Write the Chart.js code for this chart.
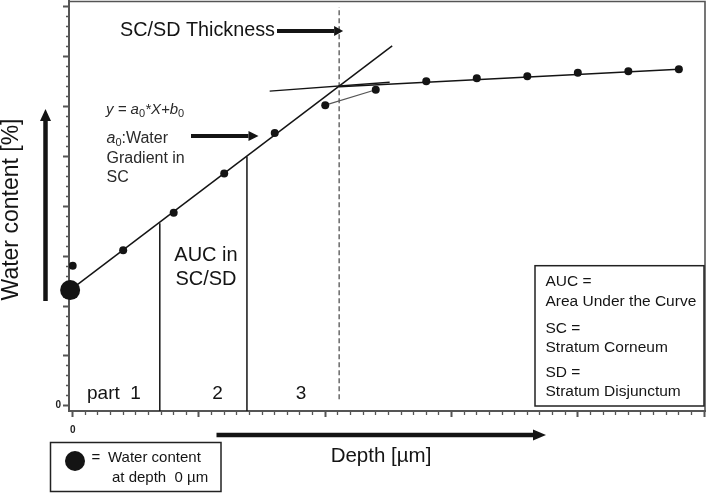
<!DOCTYPE html>
<html>
<head>
<meta charset="utf-8">
<script src="https://cdn.jsdelivr.net/npm/chart.js@4.4.0/dist/chart.umd.min.js"></script>
<style>
  html, body { margin: 0; padding: 0; background: #fff; }
  #wrap { width: 709px; height: 493px; }
</style>
</head>
<body>
<div id="wrap"><canvas id="chart" width="709" height="493"></canvas></div>
<script>
// depth in µm (minor tick = 1, major tick = 10), water content in %
const depth = [0, 4, 8, 12, 16, 20, 24, 28, 32, 36, 40, 44, 48];
const water = [28.1, 31.2, 38.7, 46.6, 54.7, 60.3, 63.4, 65.1, 65.7, 66.1, 66.8, 67.1, 67.5];

// water content at depth 0 (b0 of the SC fit)
const surfaceDepth = [-0.2];
const surfaceWater = [23.2];

// linear fit in the SC: y = a0*X + b0
const scFitX = [-0.2, 25.3];
const scFitY = [23.2, 72.2];

// fit through the plateau below the SC/SD
const plateauX = [21.1, 48];
const plateauY = [64.0, 67.5];

// tangent on the plateau, left of the crossing
const tangentX = [15.6, 25.1];
const tangentY = [63.1, 64.9];

// thin line between the last two SC points
const jointX = [20, 24];
const jointY = [60.3, 63.4];

// borders of the three AUC parts, up to the fit line
const partX = [6.9, 13.8];
const partTop = [36.6, 50.0];

// SC/SD thickness
const thicknessX = 21.1;
const thicknessY = [1.3, 80];

// axes
const xRange = [-0.29, 50.07];
const yRange = [-1.06, 81.2];
const xSteps = [1, 10];   // minor, major
const ySteps = [2, 10];
const tickLabels = ['0'];

const FONT = '"Liberation Sans", Arial, Helvetica, sans-serif';
const INK = '#141414';

const pts = (xs, ys) => xs.map((x, i) => ({ x: x, y: ys[i] }));
const lineSet = (data, extra) => Object.assign({
  data: data, showLine: true, pointRadius: 0, borderColor: INK,
  borderWidth: 1.5, fill: false, order: 5
}, extra || {});

function arrow(ctx, x1, y1, x2, y2, w, len, half) {
  const a = Math.atan2(y2 - y1, x2 - x1);
  const bx = x2 - Math.cos(a) * len, by = y2 - Math.sin(a) * len;
  ctx.save();
  ctx.strokeStyle = INK; ctx.fillStyle = INK; ctx.lineWidth = w;
  ctx.beginPath(); ctx.moveTo(x1, y1); ctx.lineTo(bx, by); ctx.stroke();
  ctx.beginPath();
  ctx.moveTo(x2, y2);
  ctx.lineTo(bx + Math.sin(a) * half, by - Math.cos(a) * half);
  ctx.lineTo(bx - Math.sin(a) * half, by + Math.cos(a) * half);
  ctx.closePath(); ctx.fill();
  ctx.restore();
}

function label(ctx, str, x, y, size, align, color, style) {
  ctx.font = (style || '') + ' ' + size + 'px ' + FONT;
  ctx.fillStyle = color || INK;
  ctx.textAlign = align || 'left';
  ctx.textBaseline = 'middle';
  ctx.fillText(str, x, y);
}

// y = a0*X+b0 with italic letters and subscripts
function formula(ctx, x, y) {
  const parts = [['y = ', 'italic', 15, 0], ['a', 'italic', 15, 0], ['0', '', 11, 4],
                 ['*X+', 'italic', 15, 0], ['b', 'italic', 15, 0], ['0', '', 11, 4]];
  let cx = x;
  parts.forEach(p => {
    ctx.font = p[1] + ' ' + p[2] + 'px ' + FONT;
    ctx.fillStyle = '#2a2a2a';
    ctx.textAlign = 'left';
    ctx.textBaseline = 'middle';
    ctx.fillText(p[0], cx, y + p[3]);
    cx += ctx.measureText(p[0]).width;
  });
}

const annotate = {
  id: 'annotate',
  beforeDatasetsDraw(chart) {
    const ctx = chart.ctx, a = chart.chartArea;
    ctx.save();
    ctx.strokeStyle = '#555'; ctx.lineWidth = 1.6;
    ctx.beginPath();
    ctx.moveTo(a.left, a.top + 0.5); ctx.lineTo(a.right, a.top + 0.5);
    ctx.lineTo(a.right, a.bottom);
    ctx.stroke();
    ctx.restore();
  },
  afterDraw(chart) {
    const ctx = chart.ctx;
    const xs = chart.scales.x;
    ctx.save();

    // top labels
    label(ctx, 'SC/SD Thickness', 120, 31, 19.8);
    arrow(ctx, 277, 31, xs.getPixelForValue(thicknessX) + 4, 31, 4, 9, 5);

    formula(ctx, 106, 110);
    ctx.save(); ctx.fillStyle = '#2a2a2a';
    ctx.font = 'italic 16px ' + FONT;
    ctx.textBaseline = 'middle'; ctx.textAlign = 'left';
    ctx.fillText('a', 106.5, 139);
    let w = ctx.measureText('a').width;
    ctx.font = '11px ' + FONT; ctx.fillText('0', 106.5 + w, 143);
    w += ctx.measureText('0').width;
    ctx.font = '16px ' + FONT; ctx.fillText(':Water', 106.5 + w, 139);
    ctx.restore();
    label(ctx, 'Gradient in', 106.5, 158.5, 16, 'left', '#2a2a2a');
    label(ctx, 'SC', 106.5, 178, 16, 'left', '#2a2a2a');
    arrow(ctx, 191, 136, 258.5, 136, 4, 10, 5);

    // AUC parts
    label(ctx, 'AUC in', 206, 255, 20, 'center');
    label(ctx, 'SC/SD', 206, 279, 20, 'center');
    label(ctx, 'part  1', 87, 393.5, 19);
    label(ctx, '2', 217.5, 393.5, 19, 'center');
    label(ctx, '3', 301, 393.5, 19, 'center');

    // axis titles with arrows
    ctx.save();
    ctx.translate(11.5, 209.5);
    ctx.rotate(-Math.PI / 2);
    label(ctx, 'Water content [%]', 0, 0, 23, 'center');
    ctx.restore();
    arrow(ctx, 45.5, 301, 45.5, 109, 4.5, 12, 5.5);
    arrow(ctx, 216.5, 435, 546, 435, 4.5, 13, 5.5);
    label(ctx, 'Depth [µm]', 381, 456.5, 20.5, 'center');

    // key for the big dot
    ctx.strokeStyle = '#222'; ctx.lineWidth = 1.5;
    ctx.strokeRect(50.5, 442.5, 170.5, 49);
    ctx.fillStyle = INK;
    ctx.beginPath(); ctx.arc(75, 461, 10, 0, Math.PI * 2); ctx.fill();
    label(ctx, '=', 96, 458, 15, 'center');
    label(ctx, 'Water content', 108, 458.3, 15);
    label(ctx, 'at depth  0 µm', 112, 478.3, 15);

    // abbreviations box
    ctx.strokeStyle = '#222'; ctx.lineWidth = 1.5;
    ctx.strokeRect(535, 265.7, 169, 140.3);
    const rows = [['AUC =', 281.7], ['Area Under the Curve', 301.7], ['SC =', 328.3],
                  ['Stratum Corneum', 347.7], ['SD =', 372.7], ['Stratum Disjunctum', 391.7]];
    rows.forEach(r => label(ctx, r[0], 545.5, r[1], 15.5));

    ctx.restore();
  }
};

const isMajor = (c, step) => c.tick && Math.abs(c.tick.value % step) < 1e-6;

new Chart(document.getElementById('chart').getContext('2d'), {
  type: 'scatter',
  data: {
    datasets: [
      { label: 'measured', data: pts(depth, water), pointRadius: 4,
        backgroundColor: INK, borderColor: INK, borderWidth: 0, showLine: false, order: 1 },
      { label: 'surface', data: pts(surfaceDepth, surfaceWater), pointRadius: 10,
        backgroundColor: INK, borderColor: INK, borderWidth: 0, showLine: false, order: 0, clip: false },
      lineSet(pts(scFitX, scFitY)),
      lineSet(pts(plateauX, plateauY)),
      lineSet(pts(tangentX, tangentY), { borderWidth: 1.3 }),
      lineSet(pts(jointX, jointY), { borderColor: '#555', borderWidth: 1.2 }),
      lineSet(pts([partX[0], partX[0]], [yRange[0], partTop[0]])),
      lineSet(pts([partX[1], partX[1]], [yRange[0], partTop[1]])),
      lineSet(pts([thicknessX, thicknessX], thicknessY),
        { borderColor: '#444', borderWidth: 1.2, borderDash: [5, 3] })
    ]
  },
  options: {
    responsive: false,
    animation: false,
    events: [],
    layout: { autoPadding: false, padding: { top: 1, right: 4, left: 0, bottom: 0 } },
    plugins: { legend: { display: false }, tooltip: { enabled: false } },
    scales: {
      x: {
        type: 'linear', min: xRange[0], max: xRange[1],
        afterFit(s) { s.height = 82; s.paddingLeft = 0; s.paddingRight = 0; },
        border: { color: '#555', width: 2 },
        grid: {
          drawOnChartArea: false, tickLength: 6, tickColor: '#555',
          tickWidth: c => isMajor(c, xSteps[1]) ? 2 : 1.3,
          tickBorderDash: c => isMajor(c, xSteps[1]) ? [] : [3, 20]
        },
        ticks: {
          stepSize: xSteps[0], autoSkip: false, maxRotation: 0, includeBounds: false,
          padding: 7, color: '#222', font: { family: FONT, size: 10, weight: 'bold' },
          callback: v => tickLabels.includes(String(v)) ? String(v) : ''
        }
      },
      y: {
        type: 'linear', min: yRange[0], max: yRange[1],
        afterFit(s) { s.width = 69; s.paddingTop = 0; s.paddingBottom = 0; },
        border: { color: '#555', width: 2 },
        grid: {
          drawOnChartArea: false, tickLength: 6, tickColor: '#555',
          tickWidth: c => isMajor(c, ySteps[1]) ? 2 : 1.3,
          tickBorderDash: c => isMajor(c, ySteps[1]) ? [] : [3, 3],
          tickBorderDashOffset: c => isMajor(c, ySteps[1]) ? 0 : 3
        },
        ticks: {
          stepSize: ySteps[0], autoSkip: false, includeBounds: false,
          padding: 2, color: '#222', font: { family: FONT, size: 10, weight: 'bold' },
          callback: v => tickLabels.includes(String(v)) ? String(v) : ''
        }
      }
    }
  },
  plugins: [annotate]
});
</script>
</body>
</html>
